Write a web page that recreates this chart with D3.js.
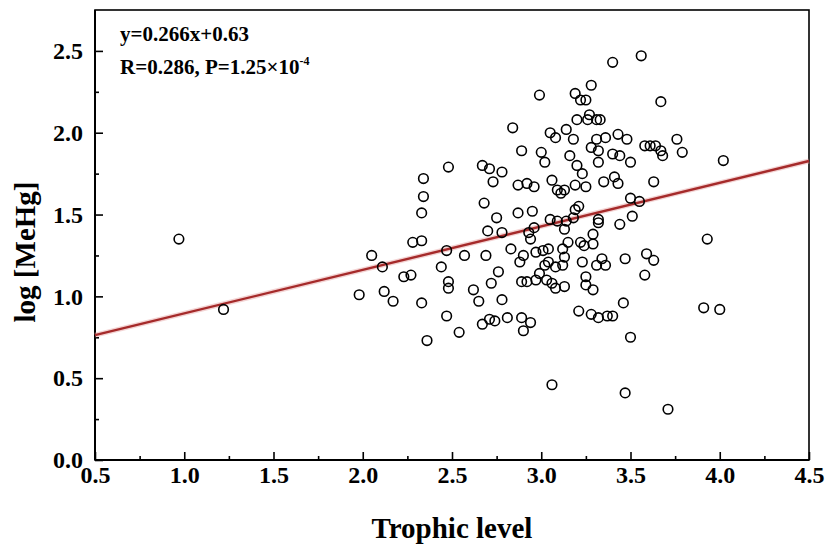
<!DOCTYPE html>
<html>
<head>
<meta charset="utf-8">
<script src="https://cdn.jsdelivr.net/npm/d3@7"></script>
<style>
  html, body { margin: 0; padding: 0; background: #fff; }
  svg { display: block; }
  .tick text { font-family: "Liberation Serif", "Times New Roman", serif; font-weight: bold; font-size: 24px; fill: #000; }
  .tick line { stroke: #000; stroke-width: 1.6; }
  .lbl { font-family: "Liberation Serif", "Times New Roman", serif; font-weight: bold; fill: #000; }
</style>
</head>
<body>
<svg id="chart" width="831" height="552"></svg>
<script>
// trophic level (x) and log [MeHg] (y)
const trophicLevel = [
  0.97, 1.22, 1.98, 2.05, 2.11, 2.12, 2.17, 2.23, 2.27, 2.28,
  2.33, 2.33, 2.36, 2.34, 2.34, 2.33, 2.44, 2.47, 2.48, 2.48,
  2.48, 2.47, 2.54, 2.57, 2.62, 2.65, 2.67, 2.67, 2.68, 2.69,
  2.70, 2.71, 2.73, 2.72, 2.71, 2.74, 2.75, 2.76, 2.78, 2.78,
  2.78,
  3.40, 3.56, 2.99, 3.28, 3.19, 3.22, 3.25, 3.67, 2.84, 3.20,
  3.27, 3.26, 3.31, 3.33, 3.05, 3.08, 3.14, 3.18, 2.89, 3.00,
  3.02, 3.16, 3.31, 3.36, 3.28, 3.32, 3.43, 3.48, 3.40, 3.44,
  3.50, 3.58, 3.61, 3.64, 3.67, 3.68, 3.76, 3.79, 4.02, 3.20,
  3.23, 3.32, 2.87, 2.92, 2.96, 3.06, 3.09, 3.11, 3.13, 3.19,
  3.25, 3.35, 3.41, 3.43, 3.63, 3.21, 3.19, 3.50, 3.55, 3.51,
  3.44, 3.32, 3.32, 2.87, 2.95, 3.05, 3.09, 3.14, 3.18, 2.96,
  2.93, 3.13, 3.29,
  3.93, 2.94, 2.83, 2.90, 2.88, 2.97, 3.01, 3.04, 3.02, 3.04,
  3.08, 3.12, 3.13, 3.12, 3.15, 3.22, 3.24, 3.29, 3.23, 3.31,
  3.34, 3.36, 3.47, 3.59, 3.63, 3.58, 2.89, 2.92, 2.97, 2.99,
  3.03, 3.06, 3.08, 3.13, 3.25, 3.25, 3.29, 3.46, 3.21, 3.28,
  3.32, 3.37, 3.40, 3.50, 3.91, 4.00, 2.81, 2.89, 2.94, 2.90,
  3.06, 3.47, 3.71
];
const logMeHg = [
  1.35, 0.92, 1.01, 1.25, 1.18, 1.03, 0.97, 1.12, 1.13, 1.33,
  1.34, 0.96, 0.73, 1.72, 1.61, 1.51, 1.18, 1.28, 1.79, 1.09,
  1.05, 0.88, 0.78, 1.25, 1.04, 0.97, 0.83, 1.80, 1.57, 1.25,
  1.40, 1.78, 1.70, 1.08, 0.86, 0.85, 1.48, 1.15, 0.98, 1.76,
  1.39,
  2.43, 2.47, 2.23, 2.29, 2.24, 2.20, 2.20, 2.19, 2.03, 2.08,
  2.11, 2.08, 2.08, 2.08, 2.00, 1.97, 2.02, 1.96, 1.89, 1.88,
  1.82, 1.86, 1.96, 1.97, 1.91, 1.89, 1.99, 1.96, 1.87, 1.86,
  1.82, 1.92, 1.92, 1.92, 1.89, 1.86, 1.96, 1.88, 1.83, 1.80,
  1.75, 1.82, 1.68, 1.69, 1.67, 1.71, 1.65, 1.63, 1.65, 1.68,
  1.67, 1.70, 1.73, 1.69, 1.70, 1.55, 1.53, 1.60, 1.58, 1.49,
  1.44, 1.47, 1.45, 1.51, 1.52, 1.47, 1.46, 1.46, 1.48, 1.42,
  1.39, 1.41, 1.38,
  1.35, 1.35, 1.29, 1.25, 1.21, 1.27, 1.28, 1.29, 1.19, 1.21,
  1.18, 1.19, 1.24, 1.29, 1.33, 1.33, 1.31, 1.32, 1.21, 1.19,
  1.23, 1.19, 1.23, 1.26, 1.22, 1.13, 1.09, 1.09, 1.10, 1.14,
  1.10, 1.08, 1.05, 1.06, 1.12, 1.07, 1.04, 0.96, 0.91, 0.89,
  0.87, 0.88, 0.88, 0.75, 0.93, 0.92, 0.87, 0.87, 0.84, 0.79,
  0.46, 0.41, 0.31
];

const fitSlope = 0.266;
const fitIntercept = 0.63;

const xTicks = [0.5, 1.0, 1.5, 2.0, 2.5, 3.0, 3.5, 4.0, 4.5];
const xMinorTicks = [0.75, 1.25, 1.75, 2.25, 2.75, 3.25, 3.75, 4.25];
const yTicks = [0.0, 0.5, 1.0, 1.5, 2.0, 2.5];
const yMinorTicks = [0.25, 0.75, 1.25, 1.75, 2.25];

const xLabel = 'Trophic level';
const yLabel = 'log [MeHg]';

(function () {
  const svg = d3.select('#chart');
  const left = 95, right = 809, top = 10, bottom = 460;

  const x = d3.scaleLinear().domain([0.5, 4.5]).range([left, right]);
  const y = d3.scaleLinear().domain([0, 2.75]).range([bottom, top]);

  // frame
  svg.append('rect')
    .attr('x', left).attr('y', top)
    .attr('width', right - left).attr('height', bottom - top)
    .attr('fill', 'none').attr('stroke', '#000').attr('stroke-width', 1.6);

  const xAxis = svg.append('g')
    .attr('transform', `translate(0,${bottom})`)
    .call(d3.axisBottom(x).tickValues(xTicks).tickFormat(d3.format('.1f'))
      .tickSizeInner(-8).tickSizeOuter(0).tickPadding(6));
  xAxis.select('.domain').remove();

  svg.append('g')
    .attr('transform', `translate(0,${bottom})`)
    .call(d3.axisBottom(x).tickValues(xMinorTicks).tickFormat('')
      .tickSizeInner(-4).tickSizeOuter(0))
    .select('.domain').remove();

  const yAxis = svg.append('g')
    .attr('transform', `translate(${left},0)`)
    .call(d3.axisLeft(y).tickValues(yTicks).tickFormat(d3.format('.1f'))
      .tickSizeInner(-8).tickSizeOuter(0).tickPadding(12));
  yAxis.select('.domain').remove();

  svg.append('g')
    .attr('transform', `translate(${left},0)`)
    .call(d3.axisLeft(y).tickValues(yMinorTicks).tickFormat('')
      .tickSizeInner(-4).tickSizeOuter(0))
    .select('.domain').remove();

  // bottom and left axis lines a bit heavier
  svg.append('line')
    .attr('x1', left).attr('x2', right).attr('y1', bottom).attr('y2', bottom)
    .attr('stroke', '#000').attr('stroke-width', 2);
  svg.append('line')
    .attr('x1', left).attr('x2', left).attr('y1', top).attr('y2', bottom)
    .attr('stroke', '#000').attr('stroke-width', 2);

  // regression line
  const fitLine = d3.line().x(d => x(d)).y(d => y(fitSlope * d + fitIntercept));
  const fitX = x.domain();
  svg.append('path')
    .attr('d', fitLine(fitX))
    .attr('fill', 'none').attr('stroke', '#e8a8a8').attr('stroke-width', 5).attr('opacity', 0.5);
  svg.append('path')
    .attr('d', fitLine(fitX))
    .attr('fill', 'none').attr('stroke', '#a52a2a').attr('stroke-width', 2.4);

  // points
  svg.append('g')
    .selectAll('circle')
    .data(trophicLevel.map((t, i) => ({ t, v: logMeHg[i] })))
    .join('circle')
    .attr('cx', d => x(d.t))
    .attr('cy', d => y(d.v))
    .attr('r', 4.8)
    .attr('fill', 'none')
    .attr('stroke', '#000')
    .attr('stroke-width', 1.6);

  // equation and statistics
  svg.append('text').attr('class', 'lbl')
    .attr('x', 120).attr('y', 41).attr('font-size', 21)
    .text(`y=${fitSlope}x+${fitIntercept}`);
  const stat = svg.append('text').attr('class', 'lbl')
    .attr('x', 120).attr('y', 74).attr('font-size', 21);
  stat.append('tspan').text('R=0.286, P=1.25\u00d710');
  stat.append('tspan').attr('dy', -9).attr('font-size', 12).text('-4');

  // axis titles
  svg.append('text').attr('class', 'lbl')
    .attr('x', (left + right) / 2).attr('y', 538)
    .attr('text-anchor', 'middle').attr('font-size', 29)
    .text(xLabel);
  svg.append('text').attr('class', 'lbl')
    .attr('transform', 'translate(35,252) rotate(-90)')
    .attr('text-anchor', 'middle').attr('font-size', 29)
    .text(yLabel);
})();
</script>
</body>
</html>
